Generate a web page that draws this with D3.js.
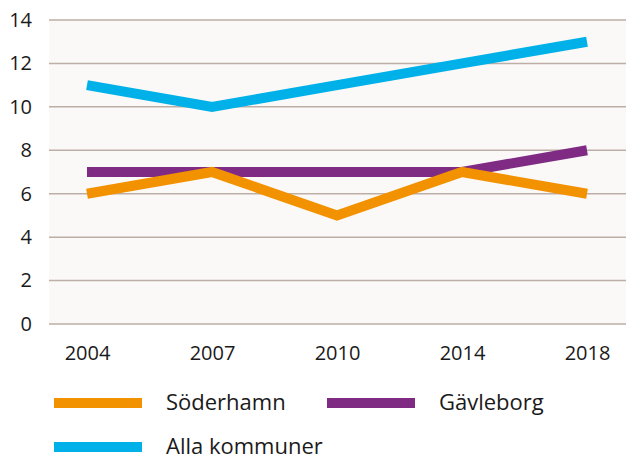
<!DOCTYPE html>
<html>
<head>
<meta charset="utf-8">
<script src="https://cdn.jsdelivr.net/npm/d3@7"></script>
<style>
  body { margin: 0; background: #fff; }
  text { font-family: "Open Sans", "Noto Sans", sans-serif; fill: #1a1a1a; }
</style>
</head>
<body>
<script>
const years = ["2004", "2007", "2010", "2014", "2018"];
const soderhamn = [6, 7, 5, 7, 6];
const gavleborg = [7, 7, 7, 7, 8];
const alla = [11, 10, 11, 12, 13];
const yTicks = [0, 2, 4, 6, 8, 10, 12, 14];

const w = 626;
const h = 460;
const margin = { top: 20, right: 0, bottom: 136, left: 49 };
const width = w - margin.left - margin.right;
const height = h - margin.top - margin.bottom;

const svg = d3.select("body").append("svg")
  .attr("width", w)
  .attr("height", h);

const chart = svg.append("g")
  .attr("transform", "translate(" + margin.left + "," + margin.top + ")");

const x = d3.scalePoint().domain(years).range([38, 538]);
const y = d3.scaleLinear().domain([0, 14]).range([height, 0]);

// plot background
chart.append("rect")
  .attr("width", width)
  .attr("height", height)
  .attr("fill", "#fbf9f8");

// gridlines
chart.selectAll(".grid")
  .data(yTicks)
  .enter().append("line")
  .attr("x1", 0)
  .attr("x2", width)
  .attr("y1", d => y(d))
  .attr("y2", d => y(d))
  .attr("stroke", "#bdaea6")
  .attr("stroke-width", 1.5);

// y axis labels
const yAxis = d3.axisLeft(y).tickValues(yTicks).tickSize(0).tickPadding(17);
chart.append("g").call(yAxis)
  .call(g => g.select(".domain").remove())
  .selectAll("text")
  .style("font-size", "20px")
  .attr("fill", "#1a1a1a");

// x axis labels
const xAxis = d3.axisBottom(x).tickSize(0).tickPadding(22);
chart.append("g")
  .attr("transform", "translate(0," + height + ")")
  .call(xAxis)
  .call(g => g.select(".domain").remove())
  .selectAll("text")
  .style("font-size", "20px")
  .attr("fill", "#1a1a1a");

const line = d3.line()
  .x((d, i) => x(years[i]))
  .y(d => y(d));

const series = [
  { name: "Alla kommuner", values: alla, color: "#00b1e9" },
  { name: "Gävleborg", values: gavleborg, color: "#7f2b84" },
  { name: "Söderhamn", values: soderhamn, color: "#f39200" }
];

chart.selectAll(".trendline")
  .data(series)
  .enter().append("path")
  .attr("d", d => line(d.values))
  .attr("fill", "none")
  .attr("stroke", d => d.color)
  .attr("stroke-width", 10)
  .attr("stroke-linecap", "butt")
  .attr("stroke-linejoin", "miter");

// legend
const legendItems = [
  { name: "Söderhamn", color: "#f39200", x: 54, y: 403 },
  { name: "Gävleborg", color: "#7f2b84", x: 327, y: 403 },
  { name: "Alla kommuner", color: "#00b1e9", x: 54, y: 447 }
];

const legend = svg.selectAll(".legend")
  .data(legendItems)
  .enter().append("g")
  .attr("transform", d => "translate(" + d.x + "," + d.y + ")");

legend.append("rect")
  .attr("x", 0)
  .attr("y", -5)
  .attr("width", 88)
  .attr("height", 10)
  .attr("fill", d => d.color);

legend.append("text")
  .attr("x", 112)
  .attr("y", 0)
  .attr("dy", "0.3em")
  .style("font-size", "22px")
  .text(d => d.name);
</script>
</body>
</html>
